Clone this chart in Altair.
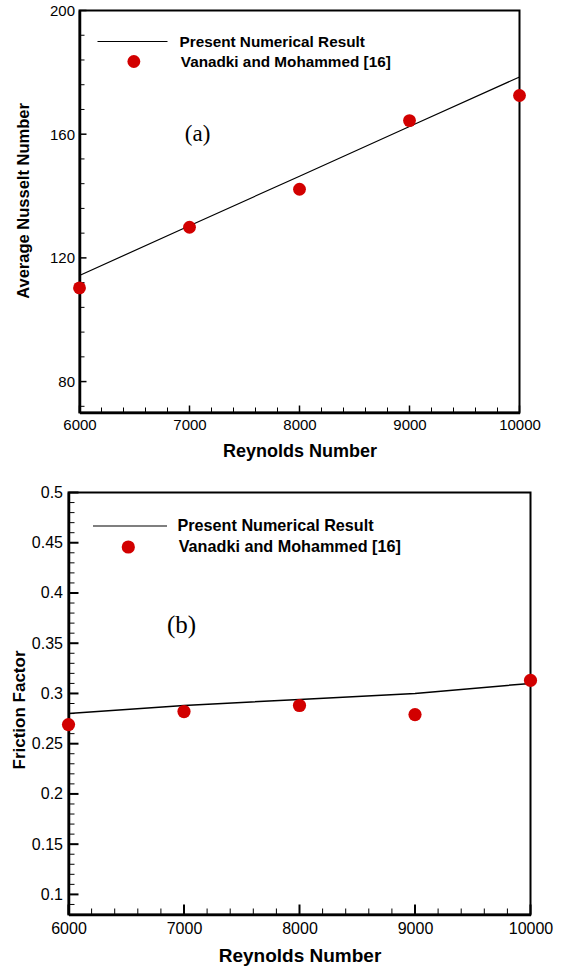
import altair as alt
import pandas as pd

# ---------------- data ----------------
REYNOLDS = [6000, 7000, 8000, 9000, 10000]
NU_NUMERICAL = [114.3, 130.4, 146.4, 162.5, 178.5]
NU_REFERENCE = [110.3, 129.9, 142.2, 164.4, 172.5]
F_NUMERICAL = [0.280, 0.288, 0.294, 0.300, 0.310]
F_REFERENCE = [0.269, 0.282, 0.288, 0.279, 0.313]

SERIES_LINE = "Present Numerical Result"
SERIES_POINTS = "Vanadki and Mohammed [16]"

# axis ticks (major labelled, minor unlabelled)
X_MAJOR = [6000, 7000, 8000, 9000, 10000]
X_MINOR = [v for v in range(6000, 10001, 200) if v % 1000 != 0]
NU_MAJOR = [80, 120, 160, 200]
NU_MINOR = [v for v in range(72, 201, 8) if v % 40 != 0]
F_MAJOR = [0.1, 0.15, 0.2, 0.25, 0.3, 0.35, 0.4, 0.45, 0.5]
F_MINOR = [round(0.09 + 0.01 * i, 2) for i in range(42)
           if round(0.09 + 0.01 * i, 2) not in F_MAJOR]

PANEL_LABELS = ["(a)", "(b)"]
PANEL_LABEL_RE = [7073, 6979]
PANEL_LABEL_VAL = [160, 0.368]

SANS = "Liberation Sans"
SERIF = "Liberation Serif"
RED = "#d20000"
X_DOMAIN = [6000, 10000]


def panel(y_num, y_ref, y_title, y_domain, y_major, y_minor, y_fmt,
          label, label_x, label_y, w, h, s):
    df_line = pd.DataFrame({"re": REYNOLDS, "val": y_num, "series": SERIES_LINE})
    df_pts = pd.DataFrame({"re": REYNOLDS, "val": y_ref, "series": SERIES_POINTS})
    df_lab = pd.DataFrame({"re": [label_x], "val": [label_y], "text": [label]})

    x_scale = alt.Scale(domain=X_DOMAIN, nice=False, zero=False)
    y_scale = alt.Scale(domain=y_domain, nice=False, zero=False)

    x_axis = alt.Axis(
        values=X_MAJOR, format="d", ticks=False, grid=False,
        domainColor="black", domainWidth=2.5,
        labelOverlap=False, labelFlush=False, labelBound=False,
        labelFont=SANS, labelFontSize=s["lab"], labelColor="black",
        labelPadding=s["lpx"],
        title="Reynolds Number", titleFont=SANS, titleFontSize=s["titx"],
        titleFontWeight="bold", titleColor="black", titlePadding=s["tpx"],
    )
    y_axis = alt.Axis(
        values=y_major, format=y_fmt, ticks=False, grid=False,
        domainColor="black", domainWidth=2.5,
        labelOverlap=False, labelFlush=False, labelBound=False,
        labelFont=SANS, labelFontSize=s["lab"], labelColor="black",
        labelPadding=s["lpy"],
        title=y_title, titleFont=SANS, titleFontSize=s["tity"],
        titleFontWeight="bold", titleColor="black", titlePadding=s["tpy"],
        titleY=s["ty"],
    )

    def xe():
        return alt.X("re:Q", scale=x_scale, axis=x_axis)

    def ye():
        return alt.Y("val:Q", scale=y_scale, axis=y_axis)

    line = alt.Chart(df_line).mark_line(strokeWidth=s["lw"]).encode(
        x=xe(),
        y=ye(),
        stroke=alt.Stroke(
            "series:N",
            scale=alt.Scale(domain=[SERIES_LINE], range=["black"]),
            legend=alt.Legend(
                title=None, orient="none", legendX=s["lx1"], legendY=s["ly1"],
                padding=0, symbolType="stroke", symbolSize=s["llen"] ** 2,
                symbolStrokeWidth=1.2, clipHeight=16, labelOffset=s["lo1"],
                labelFont=SANS, labelFontWeight="bold", labelFontSize=s["leg"],
                labelColor="black", labelLimit=500,
            ),
        ),
    )
    pts = alt.Chart(df_pts).mark_circle(size=s["ps"], opacity=1).encode(
        x=xe(),
        y=ye(),
        fill=alt.Fill(
            "series:N",
            scale=alt.Scale(domain=[SERIES_POINTS], range=[RED]),
            legend=alt.Legend(
                title=None, orient="none", legendX=s["lx2"], legendY=s["ly2"],
                padding=0, symbolType="circle", symbolSize=s["ps"],
                symbolStrokeWidth=0, symbolOpacity=1, clipHeight=16,
                labelOffset=s["lo2"],
                labelFont=SANS, labelFontWeight="bold", labelFontSize=s["leg"],
                labelColor="black", labelLimit=500,
            ),
        ),
    )
    txt = alt.Chart(df_lab).mark_text(font=SERIF, fontSize=s["ann"], color="black").encode(
        x=xe(), y=ye(), text="text:N",
    )

    def inward_ticks(xv, yv, size, width):
        # tick marks sitting on the bottom and left edges, pointing into the plot
        dfx = pd.DataFrame({"re": xv, "val": [y_domain[0]] * len(xv)})
        dfy = pd.DataFrame({"re": [X_DOMAIN[0]] * len(yv), "val": yv})
        tx = alt.Chart(dfx).mark_tick(
            orient="vertical", size=size, thickness=width, color="black",
            opacity=1, yOffset=-size / 2,
        ).encode(x=xe(), y=ye())
        ty = alt.Chart(dfy).mark_tick(
            orient="horizontal", size=size, thickness=width, color="black",
            opacity=1, xOffset=size / 2,
        ).encode(x=xe(), y=ye())
        return [tx, ty]

    ticks = inward_ticks(X_MAJOR, y_major, s["tmaj"], s["wmaj"]) + \
        inward_ticks(X_MINOR, y_minor, s["tmin"], 1)

    return alt.layer(line, *ticks, pts, txt).properties(width=w, height=h)


style_a = dict(tmaj=7, tmin=5, wmaj=1.5, lab=15, titx=18, tity=16.5, leg=15.3, ann=23,
               lpx=5, tpx=10, lpy=5, tpy=17.5, ty=190, lw=1.2, ps=165,
               lx1=17, ly1=23, llen=70, lo1=11,
               lx2=46.7, ly2=43, lo2=39.3)
style_b = dict(tmaj=10, tmin=6, wmaj=2, lab=16, titx=19, tity=17, leg=16.2, ann=25,
               lpx=6, tpx=10, lpy=6, tpy=3, ty=217, lw=1.5, ps=175,
               lx1=23.5, ly1=25.5, llen=74, lo1=9.5,
               lx2=51.7, ly2=46.5, lo2=42.3)

panel_a = panel(NU_NUMERICAL, NU_REFERENCE, "Average Nusselt Number", [70, 200],
                NU_MAJOR, NU_MINOR, "d",
                PANEL_LABELS[0], PANEL_LABEL_RE[0], PANEL_LABEL_VAL[0], 440, 402, style_a)
panel_b = panel(F_NUMERICAL, F_REFERENCE, "Friction Factor", [0.08, 0.5],
                F_MAJOR, F_MINOR, "~g",
                PANEL_LABELS[1], PANEL_LABEL_RE[1], PANEL_LABEL_VAL[1], 462, 422, style_b)

chart = (
    alt.vconcat(panel_a, panel_b, spacing=80, bounds="flush", center=True)
    .resolve_scale(stroke="independent", fill="independent")
    .configure_view(stroke="black", strokeWidth=2)
    .properties(padding={"left": 8.5, "top": 2.5, "right": 0, "bottom": 0},
                background="white")
)

chart.save("out.html", embed_options={"renderer": "svg", "actions": False})
